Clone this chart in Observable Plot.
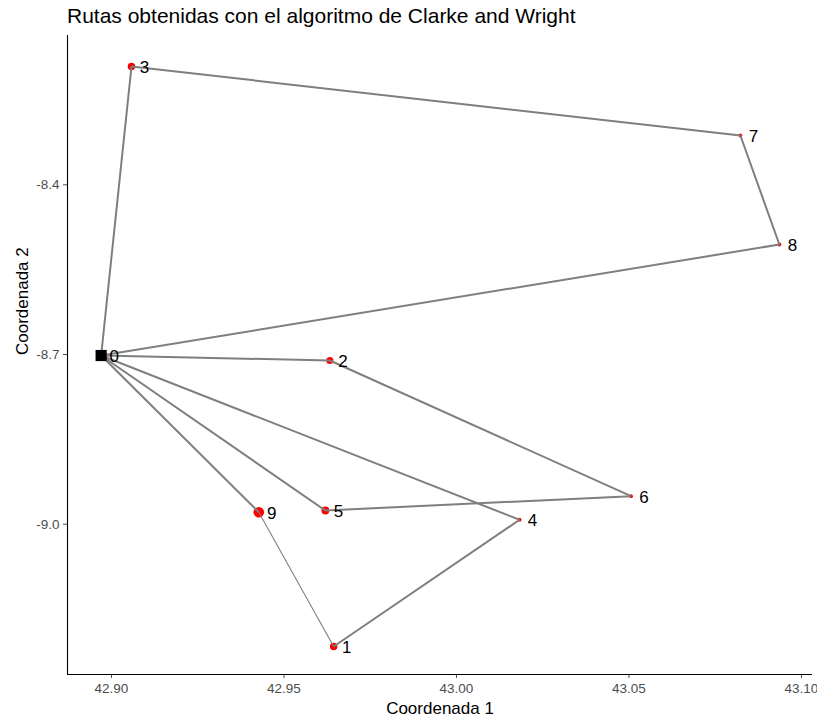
<!DOCTYPE html>
<html><head><meta charset="utf-8">
<script src="https://cdn.jsdelivr.net/npm/d3@7"></script>
<script src="https://cdn.jsdelivr.net/npm/@observablehq/plot@0.6"></script>
<style>
body{margin:0;background:#fff;font-family:"Liberation Sans",Arial,sans-serif;}
#wrap{position:relative;width:817px;height:723px;}
#title{position:absolute;left:67px;top:4px;font-size:21px;color:#000;white-space:nowrap;}
</style></head><body>
<div id="wrap"><div id="title">Rutas obtenidas con el algoritmo de Clarke and Wright</div><div id="chart"></div></div>
<script>
const nodos = [0, 1, 2, 3, 4, 5, 6, 7, 8, 9];
const coord1 = [42.8970, 42.9644, 42.9633, 42.9058, 43.0183, 42.9620, 43.0506, 43.0823, 43.0936, 42.9427];
const coord2 = [-8.7018, -9.2162, -8.7106, -8.1909, -8.9922, -8.9758, -8.9505, -8.3129, -8.5056, -8.9788];
const demanda = [0, 5, 4.5, 5, 1.3, 5.5, 1.3, 1.3, 1.3, 10];
const rutas = [[0, 3, 7, 8, 0], [0, 2, 6, 5, 0], [0, 4, 1, 9, 0]];
const xTicks = [42.90, 42.95, 43.00, 43.05, 43.10];
const yTicks = [-8.4, -8.7, -9.0];

const puntos = nodos.map((n, i) => ({n, x: coord1[i], y: coord2[i], d: demanda[i]}));
const clientes = puntos.filter(p => p.n !== 0);
const deposito = puntos.filter(p => p.n === 0);
const tramos = [];
rutas.forEach((r, k) => {
  for (let i = 0; i < r.length - 1; i++) {
    const a = puntos[r[i]], b = puntos[r[i + 1]];
    tramos.push({x1: a.x, y1: a.y, x2: b.x, y2: b.y, fino: (r[i] === 1 && r[i + 1] === 9)});
  }
});

const xDom = [42.88725, 43.1032];
const yDom = [-9.2657, -8.1361];

const chart = Plot.plot({
  width: 817, height: 723,
  marginLeft: 67, marginRight: 5, marginTop: 35, marginBottom: 49,
  style: {fontFamily: '"Liberation Sans", Arial, sans-serif', background: "#fff", overflow: "visible"},
  x: {domain: xDom},
  y: {domain: yDom},
  r: {type: "sqrt", domain: [0, 10], range: [0, 5.3]},
  marks: [
    Plot.axisX({ticks: xTicks, tickFormat: d => d.toFixed(2), tickSize: 4, tickPadding: 5, fontSize: 13.5, color: "#4d4d4d", label: null}),
    Plot.axisY({ticks: yTicks, tickFormat: d => d.toFixed(1), tickSize: 4, tickPadding: 4, fontSize: 13.5, color: "#4d4d4d", label: null}),
    Plot.ruleX([xDom[0]], {stroke: "#000", strokeWidth: 1.1}),
    Plot.ruleY([yDom[0]], {stroke: "#000", strokeWidth: 1.1}),
    Plot.dot(clientes, {x: "x", y: "y", r: "d", fill: "#ff0000", stroke: "none"}),
    Plot.link(tramos, {x1: "x1", y1: "y1", x2: "x2", y2: "y2", stroke: "#7f7f7f", strokeWidth: d => d.fino ? 1.1 : 2}),
    Plot.dot(deposito, {x: "x", y: "y", symbol: "square", r: 6.3, fill: "#000", stroke: "none"}),
    Plot.text(puntos, {x: "x", y: "y", text: d => String(d.n), dx: 13, dy: 1, fontSize: 17, fill: "#000"}),
    Plot.text(["Coordenada 1"], {frameAnchor: "bottom", dy: 39, text: d => d, fontSize: 17, fill: "#000"}),
    Plot.text(["Coordenada 2"], {frameAnchor: "left", dx: -45, rotate: -90, text: d => d, fontSize: 17, fill: "#000"})
  ]
});
document.getElementById("chart").appendChild(chart);
</script>
</body></html>
